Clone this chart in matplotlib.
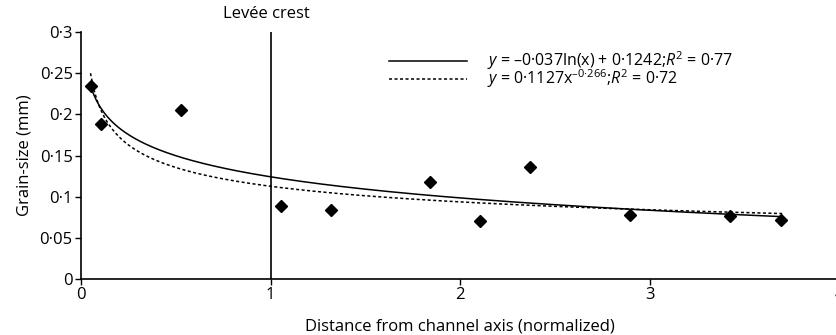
import numpy as np
import matplotlib
matplotlib.use("Agg")
import matplotlib.pyplot as plt
from matplotlib.ticker import FixedLocator, FixedFormatter

plt.rcParams['font.family'] = ['Open Sans', 'DejaVu Sans']
plt.rcParams['mathtext.fontset'] = 'custom'
plt.rcParams['mathtext.rm'] = 'Open Sans'
plt.rcParams['mathtext.it'] = 'Open Sans:italic'

# measured points
distance = [0.053, 0.105, 0.53, 1.055, 1.32, 1.84, 2.105, 2.37, 2.897, 3.425, 3.694]
grain_size = [0.234, 0.188, 0.205, 0.089, 0.084, 0.118, 0.071, 0.136, 0.078, 0.076, 0.072]

# fitted curves
log_a, log_b = -0.037, 0.1242
pow_a, pow_b = 0.1127, -0.266
fit_start, fit_end = 0.05, 3.7

y_ticks = [0, 0.05, 0.1, 0.15, 0.2, 0.25, 0.3]
y_labels = ['0', '0·05', '0·1', '0·15', '0·2', '0·25', '0·3']
x_ticks = [0, 1, 2, 3, 4]
x_labels = ['0', '1', '2', '3', '4']
crest_x = 1

fig = plt.figure(figsize=(8.36, 3.35), dpi=100)
ax = fig.add_axes([0.0969, 0.167, 0.9067, 0.7373])

xs = np.linspace(fit_start, fit_end, 400)
ax.plot(xs, log_a * np.log(xs) + log_b, color='black', lw=1.1,
        label='$\\it{y}$ = –0·037ln(x) + 0·1242;$\\it{R}^2$ = 0·77')
ax.plot(xs, pow_a * xs ** pow_b, color='black', lw=1.1, ls=(0, (2, 1.6)),
        label='$\\it{y}$ = 0·1127x$^{–0·266}$;$\\it{R}^2$ = 0·72')
ax.plot(distance, grain_size, 'D', color='black', ms=6, ls='none')

ax.axvline(crest_x, color='black', lw=1.2)
ax.text(crest_x - 0.02, 1.075, 'Levée crest', transform=ax.get_xaxis_transform(),
        ha='center', va='center', fontsize=12)

ax.set_xlim(0, 4)
ax.set_ylim(0, 0.3)
ax.yaxis.set_major_locator(FixedLocator(y_ticks))
ax.yaxis.set_major_formatter(FixedFormatter(y_labels))
ax.xaxis.set_major_locator(FixedLocator(x_ticks))
ax.xaxis.set_major_formatter(FixedFormatter(x_labels))
ax.tick_params(direction='out', length=4, width=1, labelsize=12, pad=2)
for s in ['top', 'right']:
    ax.spines[s].set_visible(False)
for s in ['left', 'bottom']:
    ax.spines[s].set_linewidth(1.2)

ax.set_xlabel('Distance from channel axis (normalized)', fontsize=12, labelpad=11)
ax.set_ylabel('Grain-size (mm)', fontsize=12, labelpad=5)

ax.legend(loc='upper left', bbox_to_anchor=(0.398, 0.955), frameon=False,
          handlelength=4.9, handletextpad=1.2, fontsize=11.5, labelspacing=-0.3,
          borderaxespad=0)

fig.savefig('out.png', dpi=100)
